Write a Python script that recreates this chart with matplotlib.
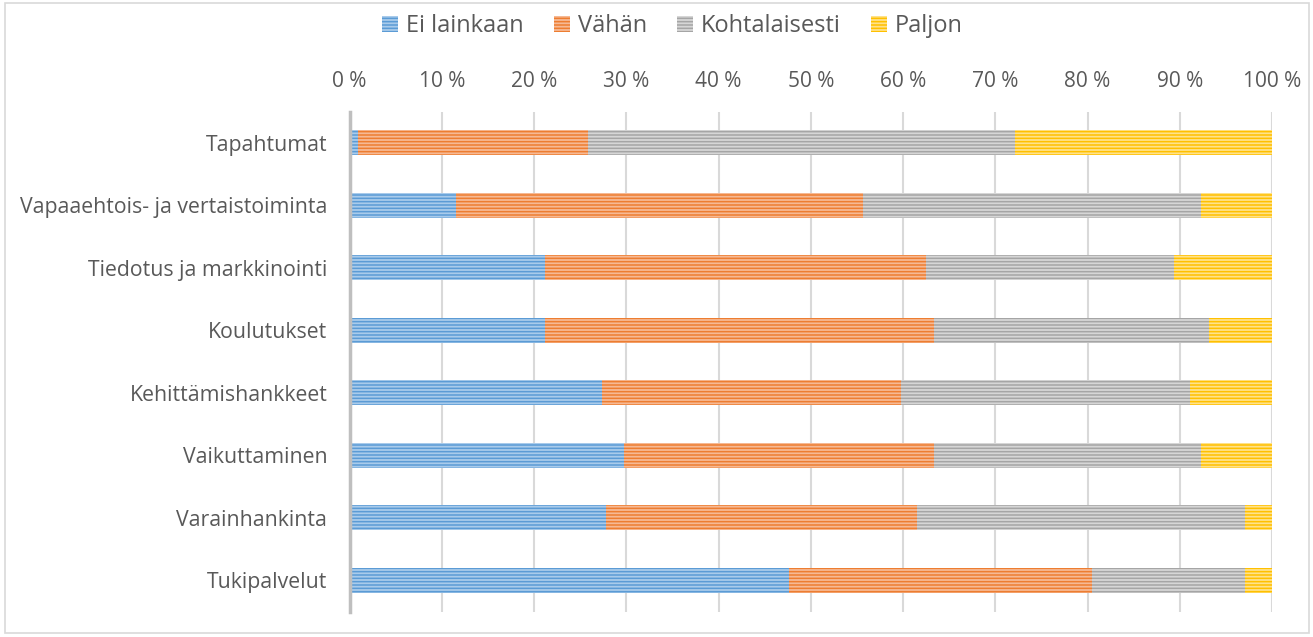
import matplotlib
matplotlib.use("Agg")
import matplotlib.pyplot as plt
from matplotlib.patches import Rectangle
from matplotlib.ticker import FuncFormatter

plt.rcParams['font.family'] = ['Open Sans', 'DejaVu Sans']
plt.rcParams['hatch.linewidth'] = 1.1

categories = ["Tapahtumat", "Vapaaehtois- ja vertaistoiminta", "Tiedotus ja markkinointi",
              "Koulutukset", "Kehittämishankkeet", "Vaikuttaminen", "Varainhankinta", "Tukipalvelut"]
series_names = ["Ei lainkaan", "Vähän", "Kohtalaisesti", "Paljon"]
ei_lainkaan = [0.9, 11.5, 21.2, 21.2, 27.4, 29.8, 27.8, 47.6]
vahan = [25.0, 44.2, 41.3, 42.2, 32.4, 33.6, 33.7, 32.9]
kohtalaisesti = [46.2, 36.6, 26.9, 29.8, 31.3, 28.9, 35.6, 16.6]
paljon = [27.9, 7.7, 10.6, 6.8, 8.9, 7.7, 2.9, 2.9]

dark = ["#5B9BD5", "#ED7D31", "#A5A5A5", "#FFC000"]
light = ["#A9CBEB", "#F6B994", "#D6D6D6", "#FFE28A"]
txt = "#595959"

fig = plt.figure(figsize=(13.13, 6.37), dpi=100)
ax = fig.add_axes([0.2662, 0.0397, 0.7026, 0.785])

y = list(range(len(categories)))
left = [0.0] * len(categories)
for vals, name, dc, lc in zip([ei_lainkaan, vahan, kohtalaisesti, paljon], series_names, dark, light):
    ax.barh(y, vals, left=left, height=0.4, color=lc, edgecolor=dc, hatch='-----',
            linewidth=0, label=name, zorder=3)
    left = [a + b for a, b in zip(left, vals)]

ax.set_xlim(0, 100)
ax.set_ylim(len(categories) - 0.5, -0.5)
ax.set_xticks(range(0, 101, 10))
ax.xaxis.set_major_formatter(FuncFormatter(lambda v, p: f"{int(v)} %"))
ax.xaxis.tick_top()
ax.tick_params(axis='x', length=0, pad=14, labelsize=15, labelcolor=txt)
ax.set_yticks(y)
ax.set_yticklabels(categories)
ax.tick_params(axis='y', length=0, pad=16, labelsize=15.3, labelcolor=txt)
ax.grid(axis='x', color="#D9D9D9", linewidth=1.5, zorder=0)
for s in ['top', 'right', 'bottom']:
    ax.spines[s].set_visible(False)
ax.spines['left'].set_color("#BFBFBF")
ax.spines['left'].set_linewidth(2.5)
ax.spines['left'].set_zorder(4)

# legend above the tick labels
leg = fig.legend(loc='center', bbox_to_anchor=(0.512, 0.959), ncol=4, frameon=False,
                 fontsize=17, handlelength=0.68, handleheight=0.68, handletextpad=0.34,
                 columnspacing=1.27, borderpad=0)
for t in leg.get_texts():
    t.set_color(txt)

fig.patches.append(Rectangle((0.004, 0.006), 0.993, 0.99, transform=fig.transFigure,
                             fill=False, edgecolor="#D9D9D9", linewidth=1.2))

fig.savefig("out.png", dpi=100)
